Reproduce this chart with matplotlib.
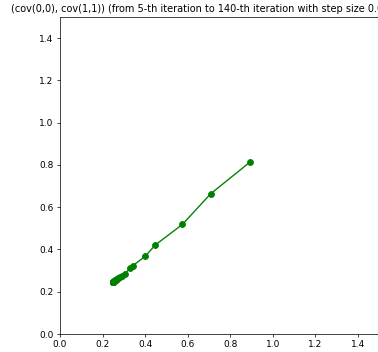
import matplotlib
matplotlib.use("Agg")
import matplotlib.pyplot as plt

cov00 = [0.894, 0.709, 0.576, 0.448, 0.402, 0.341, 0.329, 0.305, 0.290, 0.282,
         0.275, 0.270, 0.266, 0.262, 0.259, 0.257, 0.255, 0.253, 0.252, 0.251,
         0.250, 0.250, 0.249, 0.249, 0.249, 0.248, 0.248, 0.248]
cov11 = [0.814, 0.664, 0.519, 0.421, 0.369, 0.322, 0.311, 0.284, 0.275, 0.270,
         0.266, 0.262, 0.259, 0.256, 0.254, 0.252, 0.251, 0.250, 0.249, 0.248,
         0.248, 0.247, 0.247, 0.247, 0.246, 0.246, 0.246, 0.246]
title = "(cov(0,0), cov(1,1)) (from 5-th iteration to 140-th iteration with step size 0.005 iters.)"

dpi = 65
fig = plt.figure(figsize=(378 / dpi, 352 / dpi), dpi=dpi)
ax = fig.add_axes([60 / 378, 18 / 352, 319 / 378, 317 / 352])
ax.plot(cov00, cov11, color="g", marker="o", markersize=6.5)
ax.set_xlim(0, 1.5)
ax.set_ylim(0, 1.5)
ax.set_title(title, fontsize=10.8)
fig.savefig("out.png", dpi=dpi)
